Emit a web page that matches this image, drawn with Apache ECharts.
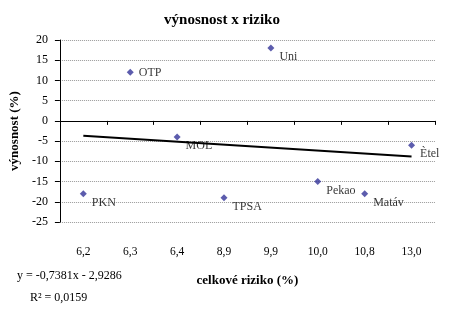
<!DOCTYPE html>
<html>
<head>
<meta charset="utf-8">
<script src="https://cdn.jsdelivr.net/npm/echarts@6/dist/echarts.min.js"></script>
<style>html,body{margin:0;padding:0;background:#fff;}#c{width:450px;height:325px;}</style>
</head>
<body>
<div id="c"></div>
<script>
var categories = ['6,2', '6,3', '6,4', '8,9', '9,9', '10,0', '10,8', '13,0'];
var names = ['PKN', 'OTP', 'MOL', 'TPSA', 'Uni', 'Pekao', 'Matáv', 'Ètel'];
var returns = [-18, 12, -4, -19, 18, -15, -18, -6];
var trendEnds = [-3.6667, -8.8333];
var yTicks = [-25, 20, 5];
var equationText = 'y = -0,7381x - 2,9286';
var r2Text = 'R² = 0,0159';

var serif = '"Liberation Serif", "Times New Roman", serif';
var chart = echarts.init(document.getElementById('c'), null, {renderer: 'canvas'});

var pointData = returns.map(function (v, i) {
  var off = names[i] === 'OTP' ? [0, 0] : [0, 9];
  return {value: [i, v], name: names[i], label: {offset: off}};
});

chart.setOption({
  animation: false,
  backgroundColor: '#fff',
  title: {
    text: 'výnosnost x riziko',
    left: 217, top: 8, textAlign: 'center',
    textStyle: {fontFamily: serif, fontSize: 15, fontWeight: 'bold', color: '#000'}
  },
  grid: {left: 57, right: 15, top: 40, bottom: 103},
  xAxis: [{
    type: 'category', data: categories, boundaryGap: true,
    axisLine: {onZero: true, lineStyle: {color: '#000', width: 1}},
    axisTick: {show: true, inside: false, length: 4, lineStyle: {color: '#000'}},
    axisLabel: {show: false},
    splitLine: {show: false}
  }, {
    type: 'category', data: categories, boundaryGap: true, position: 'bottom',
    axisLine: {show: false, onZero: false},
    axisTick: {show: false},
    axisLabel: {show: true, margin: 24, fontFamily: serif, fontSize: 11.5, color: '#000'},
    name: 'celkové riziko (%)', nameLocation: 'middle', nameGap: 52,
    nameTextStyle: {fontFamily: serif, fontSize: 13, fontWeight: 'bold', color: '#000'}
  }],
  yAxis: {
    type: 'value', min: yTicks[0], max: yTicks[1], interval: yTicks[2],
    axisLine: {show: true, lineStyle: {color: '#000'}},
    axisTick: {show: true, length: 5, lineStyle: {color: '#000'}},
    axisLabel: {margin: 12, fontFamily: serif, fontSize: 12, color: '#000'},
    splitLine: {show: true, lineStyle: {color: '#999', type: [1, 1], width: 1}},
    name: 'výnosnost (%)', nameLocation: 'middle', nameGap: 36,
    nameTextStyle: {fontFamily: serif, fontSize: 13, fontWeight: 'bold', color: '#000'}
  },
  series: [{
    type: 'line', xAxisIndex: 0,
    data: [[0, trendEnds[0]], [categories.length - 1, trendEnds[1]]],
    symbol: 'none', lineStyle: {color: '#000', width: 2}, silent: true, z: 2
  }, {
    type: 'scatter', xAxisIndex: 0,
    data: pointData,
    symbol: 'diamond', symbolSize: 7,
    itemStyle: {color: '#333399'},
    label: {show: true, position: 'right', formatter: '{b}', fontFamily: serif, fontSize: 12, color: '#000'},
    z: 3
  }],
  graphic: [{
    type: 'text', left: 17, top: 270,
    style: {text: equationText, font: '12px ' + serif, fill: '#000'}
  }, {
    type: 'text', left: 30, top: 292,
    style: {text: r2Text, font: '12px ' + serif, fill: '#000'}
  }]
});
</script>
</body>
</html>
